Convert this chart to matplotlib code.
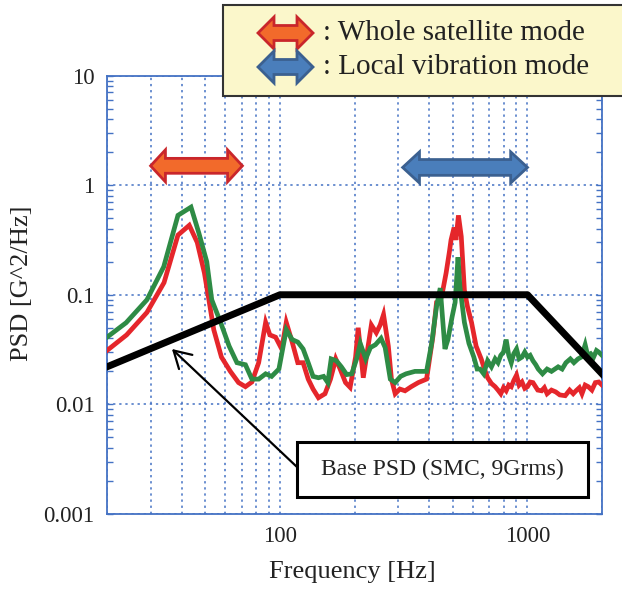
import numpy as np
import matplotlib
matplotlib.use("Agg")
import matplotlib.pyplot as plt
from matplotlib.patches import Polygon, Rectangle
from matplotlib.ticker import LogLocator, NullFormatter, FixedLocator, FixedFormatter

# --- data ------------------------------------------------------------------
freq_red = [20, 24, 29, 34, 38.7, 43, 46.3, 49.5, 51.6, 54, 58, 63, 68, 72.5, 77, 82,
            87.5, 91, 96, 101.6, 106, 112, 118, 124, 130, 136, 143, 152, 160, 168, 175,
            184, 192, 202, 207, 217, 227, 234, 245, 254, 262, 274, 282, 292, 305, 320,
            339, 362, 391, 415, 429, 444, 455, 469, 484, 491, 505, 514, 526, 540, 556,
            572, 594, 620, 650, 670, 690, 715, 740, 760, 780, 800, 820, 840, 860, 880,
            903, 925, 950, 975, 1000, 1025, 1052, 1100, 1140, 1170, 1200, 1250, 1300,
            1350, 1420, 1480, 1530, 1570, 1620, 1660, 1710, 1760, 1820, 1880, 1940, 2000]
psd_red = [0.031, 0.043, 0.069, 0.129, 0.35, 0.43, 0.30, 0.158, 0.09, 0.048, 0.027,
           0.020, 0.0158, 0.0145, 0.016, 0.024, 0.056, 0.043, 0.041, 0.032, 0.056, 0.037,
           0.024, 0.024, 0.017, 0.0138, 0.0115, 0.0125, 0.017, 0.026, 0.021, 0.0158,
           0.0143, 0.027, 0.050, 0.0175, 0.034, 0.053, 0.045, 0.053, 0.066, 0.034, 0.017,
           0.0125, 0.0138, 0.0133, 0.0145, 0.0158, 0.017, 0.042, 0.085, 0.087, 0.11,
           0.158, 0.25, 0.316, 0.41, 0.316, 0.53, 0.34, 0.11, 0.078, 0.056, 0.034, 0.026,
           0.021, 0.0175, 0.0155, 0.0145, 0.0135, 0.0125, 0.0142, 0.0133, 0.0150, 0.0145,
           0.0165, 0.0185, 0.0150, 0.016, 0.0140, 0.0145, 0.0160, 0.0158, 0.0135, 0.0133,
           0.0142, 0.0125, 0.0135, 0.013, 0.0122, 0.012, 0.0135, 0.0125, 0.0133, 0.0142,
           0.0125, 0.0150, 0.0145, 0.0135, 0.0158, 0.016, 0.015]

freq_green = [20, 23.9, 29, 33.9, 38.7, 43.7, 47, 50.6, 53, 57.6, 62.3, 67, 72.5, 77, 82,
              87.5, 92.5, 99, 106, 112, 118, 124, 130, 136, 143, 150, 156, 161, 169, 177,
              186, 195, 204, 211, 222, 232, 243, 256, 266, 279, 292, 307, 323, 351, 391,
              410, 429, 444, 464, 477, 496, 510, 524, 533, 556, 580, 607, 626, 643, 665,
              690, 715, 740, 760, 780, 800, 820, 840, 860, 880, 903, 925, 950, 975, 1000,
              1025, 1052, 1080, 1105, 1150, 1200, 1250, 1330, 1380, 1430, 1490, 1540,
              1600, 1650, 1710, 1750, 1800, 1850, 1900, 1940, 2000]
psd_green = [0.041, 0.0556, 0.090, 0.18, 0.53, 0.63, 0.366, 0.20, 0.09, 0.0556, 0.034,
             0.024, 0.023, 0.017, 0.017, 0.019, 0.018, 0.021, 0.048, 0.039, 0.037, 0.032,
             0.024, 0.018, 0.0175, 0.018, 0.0158, 0.026, 0.025, 0.022, 0.0187, 0.019,
             0.026, 0.036, 0.026, 0.033, 0.035, 0.040, 0.033, 0.017, 0.0158, 0.018,
             0.019, 0.020, 0.020, 0.036, 0.078, 0.115, 0.032, 0.039, 0.063, 0.085, 0.22,
             0.12, 0.056, 0.036, 0.027, 0.021, 0.021, 0.019, 0.025, 0.022, 0.026, 0.024,
             0.028, 0.030, 0.039, 0.028, 0.024, 0.029, 0.032, 0.026, 0.027, 0.030, 0.027,
             0.028, 0.025, 0.023, 0.021, 0.019, 0.021, 0.020, 0.022, 0.021, 0.024, 0.026,
             0.024, 0.026, 0.027, 0.035, 0.028, 0.029, 0.027, 0.031, 0.030, 0.028]

freq_base = [20, 100, 1000, 2000]
psd_base = [0.022, 0.1, 0.1, 0.019]

y_ticks = [0.001, 0.01, 0.1, 1, 10]
y_labels = ["0.001", "0.01", "0.1", "1", "10"]
x_ticks = [100, 1000]
x_labels = ["100", "1000"]

plt.rcParams["font.family"] = ["Liberation Serif", "DejaVu Serif"]

BLUE = "#4472C4"


def darrow(x0, x1, yc, head_half, shaft_half, head_len):
    """double headed block arrow outline (linear coords)"""
    return [(x0, yc), (x0 + head_len, yc + head_half), (x0 + head_len, yc + shaft_half),
            (x1 - head_len, yc + shaft_half), (x1 - head_len, yc + head_half), (x1, yc),
            (x1 - head_len, yc - head_half), (x1 - head_len, yc - shaft_half),
            (x0 + head_len, yc - shaft_half), (x0 + head_len, yc - head_half)]


def log_darrow(x0, x1, yc, head_half, shaft_half, head_len):
    v = darrow(np.log10(x0), np.log10(x1), np.log10(yc), head_half, shaft_half, head_len)
    return [(10 ** a, 10 ** b) for a, b in v]


W, H = 622, 592
fig = plt.figure(figsize=(W / 100, H / 100), dpi=100)
ax = fig.add_axes([107 / W, 1 - 514 / H, 495 / W, 438.5 / H])

ax.plot(freq_red, psd_red, color="#E5262B", lw=3.4, solid_joinstyle="miter", zorder=3)
ax.plot(freq_green, psd_green, color="#2E8B45", lw=3.4, solid_joinstyle="miter", zorder=4)
ax.plot(freq_base, psd_base, color="black", lw=5, zorder=5)

ax.set_xscale("log")
ax.set_yscale("log")
ax.set_xlim(20, 2000)
ax.set_ylim(0.001, 10)

# ticks / grid
ax.xaxis.set_major_locator(FixedLocator(x_ticks))
ax.xaxis.set_major_formatter(FixedFormatter(x_labels))
ax.xaxis.set_minor_locator(LogLocator(base=10, subs=np.arange(2, 10), numticks=20))
ax.xaxis.set_minor_formatter(NullFormatter())
ax.yaxis.set_major_locator(FixedLocator(y_ticks))
ax.yaxis.set_major_formatter(FixedFormatter(y_labels))
ax.yaxis.set_minor_locator(LogLocator(base=10, subs=np.arange(2, 10), numticks=20))
ax.yaxis.set_minor_formatter(NullFormatter())

ax.tick_params(axis="x", which="both", length=0, labelsize=16.5, pad=9)
ax.tick_params(axis="y", which="both", direction="in", left=True, right=True,
               length=4, width=1, color=BLUE, labelsize=16.5, pad=9)

ax.grid(True, axis="x", which="both", color=BLUE, lw=1.1, ls=(0, (1.5, 2.5)))
ax.grid(True, axis="y", which="major", color=BLUE, lw=1.1, ls=(0, (1.5, 2.5)))
for s in ax.spines.values():
    s.set_color(BLUE)
    s.set_linewidth(1.3)

# mode arrows inside the plot
ax.add_patch(Polygon(log_darrow(30, 70.5, 1.5, 0.146, 0.068, 0.06), closed=True,
                     facecolor="#F26A2B", edgecolor="#C9262B", lw=2, zorder=6))
ax.add_patch(Polygon(log_darrow(313, 1000, 1.45, 0.142, 0.072, 0.068), closed=True,
                     facecolor="#4A7EBB", edgecolor="#3B6090", lw=2, zorder=6))

# legend box (top right)
fig.add_artist(Rectangle((223 / W, 1 - 96 / H), 420 / W, 91 / H, transform=fig.transFigure,
                         facecolor="#FBF7CB", edgecolor="#333333", lw=1.5, zorder=10))
for yc, fc, ec in [(33, "#F26A2B", "#C9262B"), (67, "#4A7EBB", "#3B6090")]:
    v = darrow(258, 313, H - yc, 16, 7.5, 16)
    fig.add_artist(Polygon([(a / W, b / H) for a, b in v], closed=True,
                           transform=fig.transFigure, facecolor=fc, edgecolor=ec,
                           lw=2, zorder=11))
fig.text(323 / W, 1 - 33 / H, ": Whole satellite mode", fontsize=21, color="#222222",
         ha="left", va="center", zorder=12)
fig.text(323 / W, 1 - 67 / H, ": Local vibration mode", fontsize=21, color="#222222",
         ha="left", va="center", zorder=12)

# base PSD call-out
fig.add_artist(Rectangle((297 / W, 1 - 497 / H), 291 / W, 55 / H, transform=fig.transFigure,
                         facecolor="white", edgecolor="black", lw=2.2, zorder=10))
fig.text(442 / W, 1 - 469 / H, "Base PSD (SMC, 9Grms)", fontsize=17, ha="center",
         va="center", color="#222222", zorder=12)
ax.annotate("", xy=(36.6, 0.032), xytext=(297 / W, 1 - 467 / H),
            textcoords="figure fraction",
            arrowprops=dict(arrowstyle="->,head_length=0.6,head_width=0.35",
                            mutation_scale=20, lw=1.6, color="black", shrinkA=0, shrinkB=0),
            zorder=9)

fig.text(22 / W, 1 - 283 / H, "PSD [G^2/Hz]", fontsize=19, rotation=90, ha="center",
         va="center", color="#222222")
fig.text(352 / W, 1 - 572 / H, "Frequency [Hz]", fontsize=19, ha="center", va="center",
         color="#222222")
for lab in ax.get_xticklabels() + ax.get_yticklabels():
    lab.set_color("#222222")

fig.savefig("out.png", dpi=100)
